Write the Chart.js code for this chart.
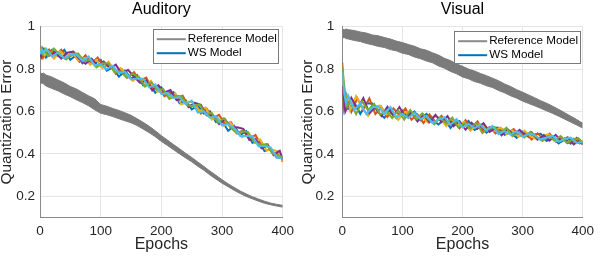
<!DOCTYPE html>
<html>
<head>
<meta charset="utf-8">
<script src="https://cdn.jsdelivr.net/npm/chart.js@4.4.0/dist/chart.umd.min.js"></script>
<style>
  body { margin:0; background:#fff; }
  #wrap { position:relative; width:600px; height:258px; }
  .panel { position:absolute; top:0; width:300px; height:258px; }
</style>
</head>
<body>
<div id="wrap">
  <div class="panel" style="left:0"><canvas id="graficoAuditory" width="300" height="258"></canvas></div>
  <div class="panel" style="left:300px"><canvas id="graficoVisual" width="300" height="258"></canvas></div>
</div>
<script>
// ------------------- DATA -------------------
// three sampling grids so the noisy runs don't all zigzag in step
const epochsA = [0,3,6,10,20,30,40,50,60,70,
  80,90,100,110,120,130,140,150,160,170,
  180,190,200,210,220,230,240,250,260,270,
  280,290,300,310,320,330,340,350,360,370,
  380,390,400];
const epochsB = [0,2,5,15,25,35,45,55,65,75,
  85,95,105,115,125,135,145,155,165,175,
  185,195,205,215,225,235,245,255,265,275,
  285,295,305,315,325,335,345,355,365,375,
  385,395,400];
const epochsC = [0,4,8,13,23,33,43,53,63,73,
  83,93,103,113,123,133,143,153,163,173,
  183,193,203,213,223,233,243,253,263,273,
  283,293,303,313,323,333,343,353,363,373,
  383,393,400];
const xTicks = [0,100,200,300,400];
const yTicks = [0.2,0.4,0.6,0.8,1];

// Auditory - reference model (noisy band: upper / lower edge)
const audRefUpper = [0.785,0.778,0.781,0.772,0.762,0.748,0.735,0.718,0.706,0.690,
  0.674,0.660,0.633,0.625,0.614,0.605,0.594,0.582,0.566,0.549,
  0.530,0.509,0.486,0.465,0.444,0.424,0.403,0.383,0.362,0.341,
  0.319,0.299,0.278,0.259,0.242,0.225,0.211,0.198,0.187,0.177,
  0.168,0.162,0.157];
const audRefLower = [0.728,0.735,0.730,0.720,0.708,0.697,0.682,0.670,0.655,0.642,
  0.627,0.608,0.592,0.585,0.576,0.566,0.556,0.547,0.534,0.517,
  0.500,0.481,0.459,0.440,0.420,0.400,0.381,0.363,0.342,0.323,
  0.301,0.281,0.262,0.245,0.228,0.213,0.199,0.188,0.177,0.167,
  0.160,0.154,0.149];

// Auditory - WS model runs
const audWs1 = [0.900,0.864,0.888,0.855,0.891,0.861,0.891,0.844,0.867,0.828,
  0.855,0.826,0.843,0.793,0.808,0.764,0.793,0.755,0.772,0.723,
  0.730,0.688,0.713,0.672,0.691,0.639,0.653,0.610,0.627,0.590,
  0.601,0.550,0.555,0.509,0.532,0.489,0.507,0.452,0.461,0.413,
  0.423,0.383,0.382];
const audWs2 = [0.862,0.891,0.853,0.892,0.863,0.891,0.852,0.870,0.835,0.865,
  0.828,0.855,0.812,0.824,0.778,0.799,0.761,0.785,0.745,0.760,
  0.708,0.719,0.672,0.694,0.660,0.675,0.625,0.638,0.590,0.612,
  0.569,0.584,0.541,0.549,0.496,0.511,0.469,0.489,0.439,0.446,
  0.393,0.403,0.362];
const audWs3 = [0.888,0.901,0.866,0.882,0.849,0.883,0.860,0.881,0.840,0.851,
  0.820,0.843,0.803,0.835,0.789,0.805,0.773,0.744,0.765,0.728,
  0.744,0.693,0.700,0.668,0.686,0.633,0.646,0.644,0.602,0.619,
  0.562,0.570,0.532,0.551,0.510,0.478,0.493,0.459,0.468,0.417,
  0.419,0.411,0.368];
const audWs4 = [0.875,0.859,0.896,0.863,0.879,0.850,0.878,0.883,0.847,0.825,
  0.849,0.815,0.835,0.804,0.821,0.776,0.796,0.764,0.735,0.747,
  0.699,0.724,0.690,0.701,0.654,0.660,0.621,0.641,0.631,0.581,
  0.583,0.541,0.563,0.522,0.526,0.518,0.466,0.471,0.427,0.440,
  0.397,0.415,0.374];
const audWs5 = [0.892,0.871,0.894,0.860,0.897,0.866,0.845,0.872,0.873,0.837,
  0.844,0.808,0.828,0.827,0.785,0.790,0.758,0.779,0.761,0.717,
  0.737,0.703,0.706,0.659,0.674,0.672,0.629,0.625,0.633,0.586,
  0.593,0.547,0.569,0.528,0.500,0.507,0.503,0.455,0.443,0.445,
  0.402,0.390,0.385];
const audWs6 = [0.870,0.894,0.875,0.897,0.860,0.878,0.850,0.868,0.869,0.839,
  0.860,0.818,0.823,0.799,0.816,0.781,0.788,0.751,0.756,0.755,
  0.713,0.728,0.682,0.688,0.663,0.668,0.634,0.651,0.595,0.601,
  0.571,0.577,0.535,0.541,0.521,0.485,0.485,0.484,0.436,0.437,
  0.431,0.386,0.379];

// Visual - reference model band
const visRefUpper = [0.990,0.985,0.989,0.986,0.982,0.975,0.970,0.961,0.957,0.949,
  0.942,0.932,0.925,0.916,0.908,0.896,0.889,0.877,0.866,0.851,
  0.840,0.825,0.813,0.800,0.791,0.779,0.769,0.757,0.745,0.730,
  0.718,0.703,0.691,0.678,0.665,0.651,0.639,0.625,0.610,0.594,
  0.578,0.562,0.544];
const visRefLower = [0.945,0.950,0.944,0.942,0.935,0.930,0.921,0.915,0.907,0.902,
  0.892,0.886,0.875,0.869,0.857,0.849,0.838,0.830,0.815,0.804,
  0.789,0.778,0.763,0.754,0.741,0.733,0.721,0.713,0.699,0.688,
  0.674,0.663,0.649,0.638,0.627,0.615,0.603,0.591,0.578,0.564,
  0.550,0.536,0.522];

// Visual - WS model runs
const visWs1 = [0.780,0.624,0.677,0.613,0.641,0.589,0.639,0.638,0.595,0.570,
  0.607,0.569,0.603,0.573,0.600,0.559,0.589,0.561,0.539,0.564,
  0.522,0.560,0.534,0.555,0.513,0.529,0.500,0.523,0.523,0.490,
  0.502,0.476,0.505,0.479,0.492,0.495,0.461,0.474,0.449,0.473,
  0.448,0.476,0.453];
const visWs2 = [0.830,0.633,0.663,0.598,0.662,0.609,0.662,0.588,0.621,0.574,
  0.615,0.583,0.614,0.561,0.586,0.546,0.586,0.551,0.580,0.538,
  0.556,0.520,0.559,0.523,0.553,0.505,0.527,0.497,0.520,0.498,
  0.517,0.484,0.498,0.468,0.497,0.470,0.495,0.458,0.478,0.450,
  0.471,0.449,0.460];
const visWs3 = [0.760,0.646,0.674,0.607,0.673,0.618,0.579,0.624,0.628,0.586,
  0.600,0.560,0.594,0.599,0.561,0.574,0.547,0.577,0.568,0.531,
  0.563,0.536,0.551,0.509,0.535,0.542,0.507,0.510,0.525,0.494,
  0.510,0.481,0.510,0.484,0.470,0.486,0.492,0.461,0.463,0.477,
  0.453,0.455,0.463];
const visWs4 = [0.720,0.682,0.600,0.665,0.612,0.663,0.592,0.621,0.579,0.622,
  0.579,0.621,0.573,0.595,0.553,0.584,0.550,0.584,0.550,0.578,
  0.531,0.554,0.514,0.547,0.519,0.545,0.504,0.521,0.488,0.517,
  0.490,0.513,0.486,0.502,0.467,0.489,0.463,0.490,0.459,0.478,
  0.445,0.466,0.443];
const visWs5 = [0.815,0.700,0.623,0.647,0.587,0.648,0.606,0.636,0.585,0.604,
  0.569,0.606,0.562,0.607,0.565,0.591,0.564,0.539,0.572,0.543,
  0.571,0.525,0.545,0.519,0.548,0.499,0.521,0.526,0.499,0.523,
  0.484,0.501,0.478,0.504,0.479,0.461,0.484,0.464,0.484,0.453,
  0.467,0.473,0.448];
const visWs6 = [0.790,0.687,0.640,0.674,0.607,0.639,0.588,0.619,0.623,0.588,
  0.621,0.573,0.588,0.568,0.595,0.564,0.580,0.546,0.562,0.573,
  0.537,0.564,0.525,0.541,0.522,0.537,0.511,0.532,0.493,0.507,
  0.491,0.507,0.481,0.496,0.488,0.467,0.477,0.485,0.457,0.470,
  0.477,0.451,0.458];

// matlab default line colours, run order
const runColors = ['#0072BD','#D95319','#EDB120','#7E2F8E','#77AC30','#4DBEEE'];
const runGrids = [epochsA, epochsB, epochsC, epochsB, epochsC, epochsA];
const refColor = '#7b7b7b';
const fontFam = "'Liberation Sans', Arial, Helvetica, sans-serif";

// ------------------- LEGEND (inside the axes) -------------------
const boxLegend = {
  id: 'boxLegend',
  afterDatasetsDraw(chart, args, o){
    const ctx = chart.ctx;
    const a = chart.chartArea;
    const itens = chart.data.datasets.filter(d => d.label);
    const x0 = a.right - o.right - o.width;
    const y0 = a.top + o.top;
    ctx.save();
    ctx.fillStyle = '#fff';
    ctx.fillRect(x0, y0, o.width, o.height);
    ctx.strokeStyle = '#7a7a7a';
    ctx.lineWidth = 1;
    ctx.strokeRect(Math.round(x0)+0.5, Math.round(y0)+0.5, o.width, o.height);
    ctx.font = '11.7px ' + fontFam;
    ctx.textBaseline = 'middle';
    itens.forEach((d, i) => {
      const y = y0 + 10 + i * 14;
      ctx.strokeStyle = d.legendColor || d.borderColor;
      ctx.lineWidth = 2;
      ctx.beginPath();
      ctx.moveTo(x0 + 4, y);
      ctx.lineTo(x0 + 33, y);
      ctx.stroke();
      ctx.fillStyle = '#000';
      ctx.fillText(d.label, x0 + 35, y);
    });
    ctx.restore();
  }
};

function pts(xs, arr){
  return arr.map((v, i) => ({x: xs[i], y: v}));
}

// ------------------- CHARTS -------------------
function makeChart(p){
  const datasets = [];

  datasets.push({
    label: 'Reference Model', data: pts(epochsA, p.refUpper),
    borderColor: refColor, backgroundColor: refColor, borderWidth: 1,
    fill: '+1', order: 20, legendColor: '#8a8a8a'
  });
  datasets.push({
    data: pts(epochsA, p.refLower),
    borderColor: refColor, borderWidth: 1, fill: false, order: 21
  });

  p.runs.forEach((r, i) => {
    datasets.push({
      label: i === 0 ? 'WS Model' : undefined,
      data: pts(runGrids[i], r),
      borderColor: runColors[i],
      borderWidth: 2,
      fill: false,
      order: 10 - i
    });
  });

  return new Chart(document.getElementById(p.canvas), {
    type: 'line',
    data: { datasets: datasets },
    plugins: [boxLegend],
    options: {
      responsive: false,
      animation: false,
      elements: { point: { radius: 0 }, line: { tension: 0 } },
      layout: { padding: { left: 0, right: p.padRight, top: 0, bottom: 0 } },
      plugins: {
        legend: { display: false },
        tooltip: { enabled: false },
        title: {
          display: true, text: p.title, color: '#000', fullSize: false,
          font: { family: fontFam, size: 16, weight: 'normal', lineHeight: 1 },
          padding: { top: 2, bottom: 8.7 }
        },
        boxLegend: p.legend
      },
      scales: {
        x: {
          type: 'linear', min: 0, max: 400,
          afterBuildTicks: s => { s.ticks = xTicks.map(v => ({value: v})); },
          afterFit: s => { s.height = 40.5; },
          grid: { color: '#e6e6e6', drawTicks: false },
          border: { color: '#8a8a8a' },
          ticks: { padding: 6, color: '#262626', maxRotation: 0,
                   font: { family: fontFam, size: 13.5 } },
          title: { display: true, text: 'Epochs', color: '#262626',
                   font: { family: fontFam, size: 16 }, padding: { top: 0, bottom: 4 } }
        },
        y: {
          min: 0.1, max: 1,
          afterBuildTicks: s => { s.ticks = yTicks.map(v => ({value: v})); },
          afterFit: s => { s.width = p.axisLeft; },
          grid: { color: '#e6e6e6', drawTicks: false },
          border: { color: '#8a8a8a' },
          ticks: { padding: p.tickPad, color: '#262626',
                   font: { family: fontFam, size: 13.5 },
                   callback: v => String(v) },
          title: { display: true, text: 'Quantization Error', color: '#262626',
                   font: { family: fontFam, size: 15.4, lineHeight: 1 },
                   padding: { top: p.yTitlePad, bottom: 0 } }
        }
      }
    }
  });
}

makeChart({
  canvas: 'graficoAuditory', title: 'Auditory',
  refUpper: audRefUpper, refLower: audRefLower,
  runs: [audWs1, audWs2, audWs3, audWs4, audWs5, audWs6],
  axisLeft: 40, padRight: 16, tickPad: 5, yTitlePad: -1,
  legend: { width: 125, height: 34, right: 5, top: 2.5 }
});

makeChart({
  canvas: 'graficoVisual', title: 'Visual',
  refUpper: visRefUpper, refLower: visRefLower,
  runs: [visWs1, visWs2, visWs3, visWs4, visWs5, visWs6],
  axisLeft: 42.3, padRight: 11.7, tickPad: 8, yTitlePad: 0.5,
  legend: { width: 126, height: 32, right: 2.6, top: 4.5 }
});
</script>
</body>
</html>
